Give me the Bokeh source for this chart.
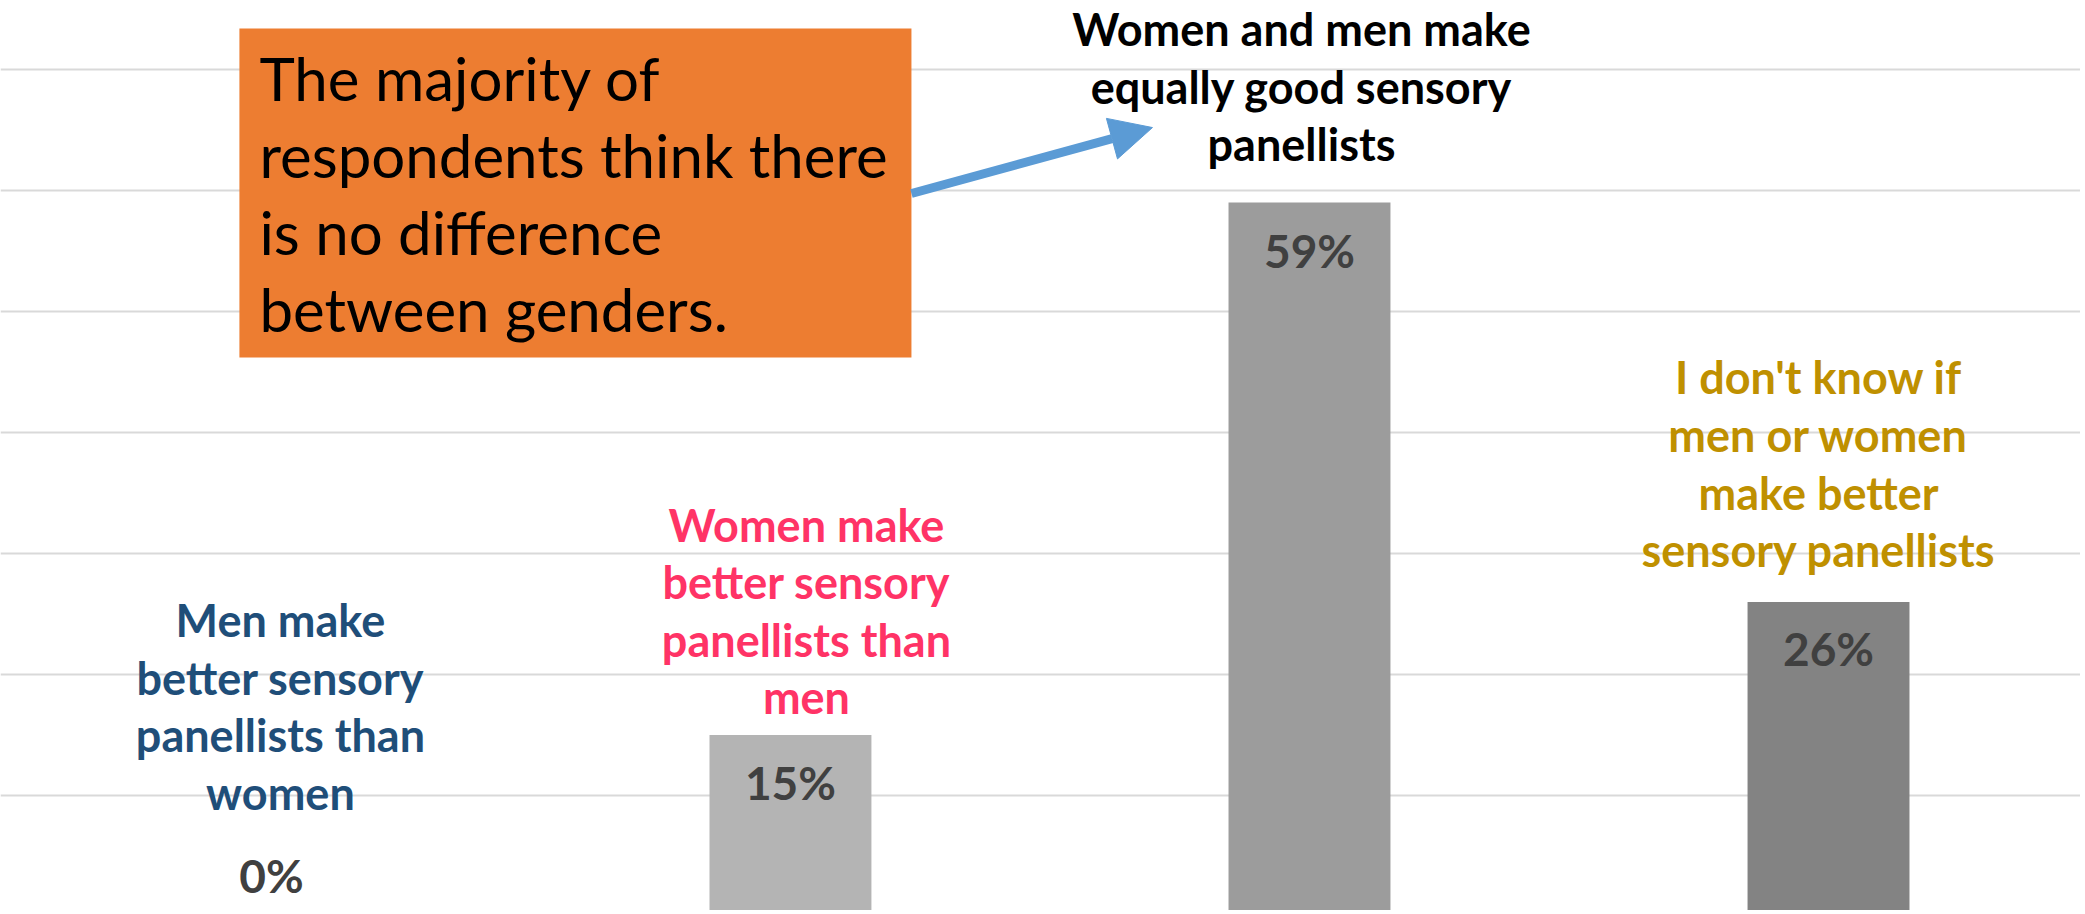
from bokeh.plotting import figure
from bokeh.models import ColumnDataSource, Range1d, FixedTicker, BoxAnnotation, Arrow, NormalHead
from bokeh.embed import file_html
from bokeh.resources import INLINE
from bokeh.core.properties import value

# ---- data ----
categories = [
    "Men make better sensory panellists than women",
    "Women make better sensory panellists than men",
    "Women and men make equally good sensory panellists",
    "I don't know if men or women make better sensory panellists",
]
category_lines = [
    "Men make\nbetter sensory\npanellists than\nwomen",
    "Women make\nbetter sensory\npanellists than\nmen",
    "Women and men make\nequally good sensory\npanellists",
    "I don't know if\nmen or women\nmake better\nsensory panellists",
]
values = [0, 15, 59, 26]
value_labels = ["0%", "15%", "59%", "26%"]
grid_ticks = [10, 20, 30, 40, 50, 60, 70]
annotation_text = "The majority of\nrespondents think there\nis no difference\nbetween genders."

# ---- styles ----
bar_colors = ["#C8C8C8", "#B4B4B4", "#9C9C9C", "#838383"]
label_colors = ["#1F4E79", "#FF3366", "#000000", "#BF9000"]
label_gap_px = [210, 124, 116, 138]      # label block centre above bar top
label_dx_px = [9, 16, -8, -10]
value_offset_px = [-41, 48, 48, 47]      # +: inside bar (down), -: above

xs = list(range(len(categories)))

src = ColumnDataSource(dict(
    x=xs, top=values, color=bar_colors, vlabel=value_labels,
    voff=value_offset_px, clabel=category_lines, ccolor=label_colors,
    cdy=[-g for g in label_gap_px], cdx=label_dx_px,
))

W, H = 2080, 910
p = figure(width=W, height=H,
           x_range=Range1d(-0.522, 3.4855), y_range=Range1d(0.496, 75.70),
           output_backend="svg", toolbar_location=None, min_border=0)
p.xaxis.visible = False
p.yaxis.visible = False
p.outline_line_color = None
p.xgrid.visible = False
p.yaxis.ticker = FixedTicker(ticks=grid_ticks)
p.ygrid.ticker = FixedTicker(ticks=grid_ticks)
p.ygrid.grid_line_color = "#D9D9D9"
p.ygrid.grid_line_width = 2

p.vbar(x="x", top="top", bottom=0, width=0.312, fill_color="color",
       line_color=None, source=src)

p.text(x="x", y="top", text="vlabel", y_offset="voff",
       text_align="center", text_baseline="middle",
       text_font=value("Lato"), text_font_style="bold",
       text_font_size="46px", text_color="#404040", source=src)

p.text(x="x", y="top", text="clabel", x_offset="cdx", y_offset="cdy",
       text_align="center", text_baseline="middle",
       text_font=value("Lato"), text_font_style="bold",
       text_font_size="45px", text_line_height=1.067,
       text_color="ccolor", source=src)

# annotation box
p.add_layout(BoxAnnotation(left=-0.0617, right=1.2331, top=73.39, bottom=46.2,
                           fill_color="#ED7D31", fill_alpha=1.0, line_color=None))
p.text(x=[-0.0231], y=[59.75], text=[annotation_text],
       text_align="left", text_baseline="middle",
       text_font=value("Lato"), text_font_size="60px", text_line_height=1.065,
       text_color="#000000", level="overlay")

p.add_layout(Arrow(end=NormalHead(size=42, fill_color="#5B9BD5", line_color="#5B9BD5"),
                   x_start=1.2331, y_start=59.75, x_end=1.6975, y_end=65.2,
                   line_color="#5B9BD5", line_width=9))

open("out.html", "w").write(file_html(p, INLINE))
